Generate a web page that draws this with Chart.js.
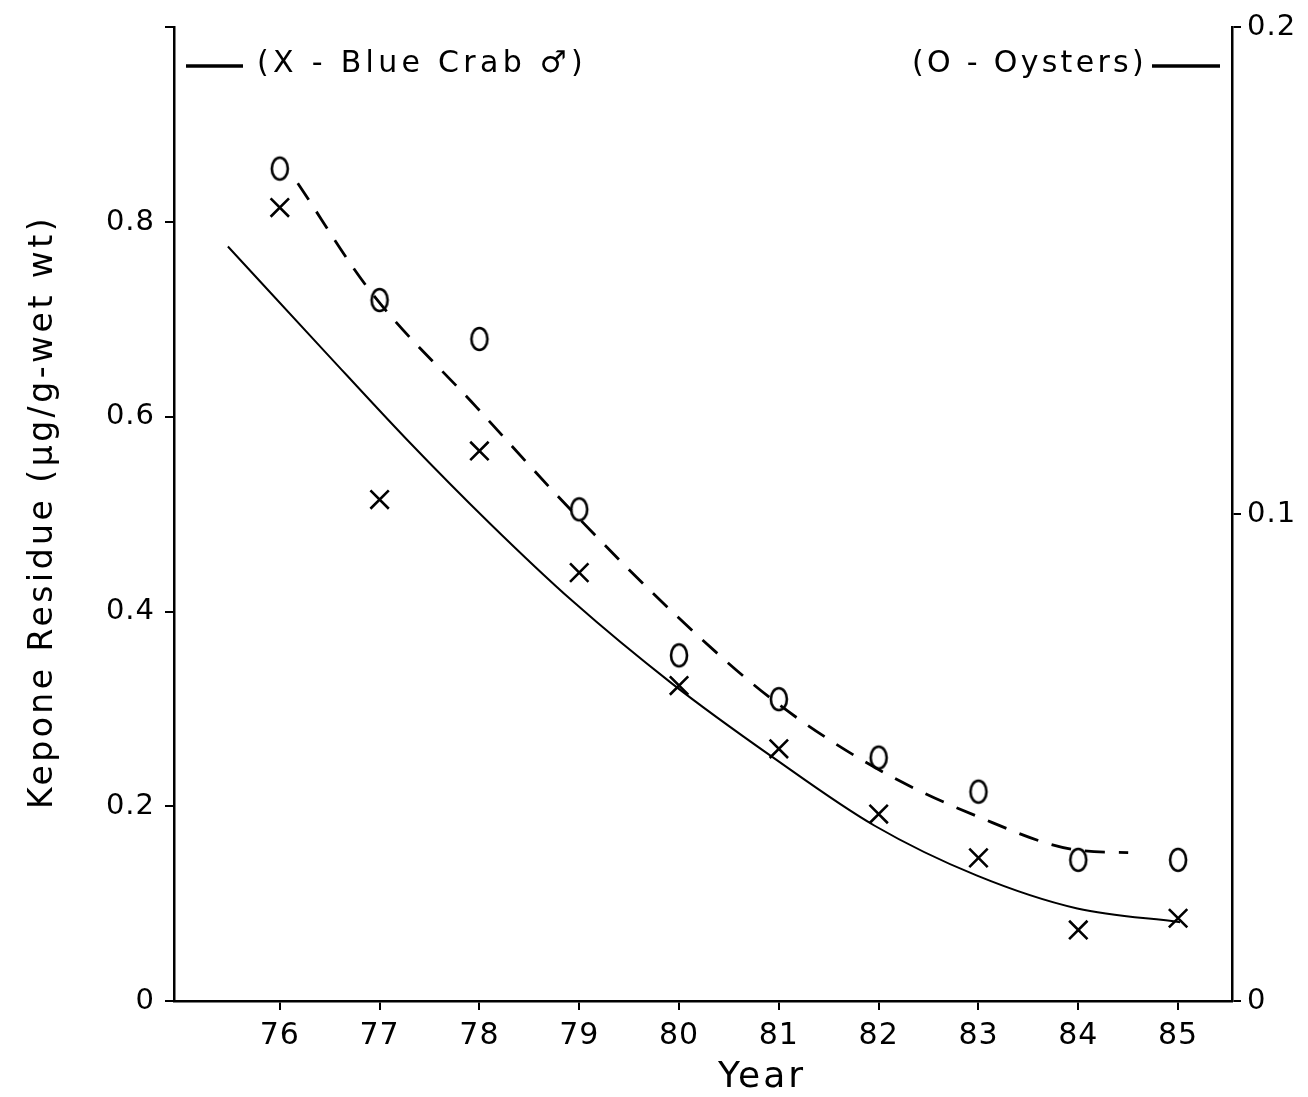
<!DOCTYPE html>
<html>
<head>
<meta charset="utf-8">
<script src="https://cdn.jsdelivr.net/npm/chart.js"></script>
<style>
html, body { margin: 0; padding: 0; background: #fff; }
#wrap { width: 1308px; height: 1097px; }
</style>
</head>
<body>
<div id="wrap"><canvas id="chart"></canvas></div>
<script>
// values
var years = [76, 77, 78, 79, 80, 81, 82, 83, 84, 85];
var crab = [0.815, 0.515, 0.565, 0.440, 0.324, 0.259, 0.192, 0.147, 0.073, 0.085];     // left axis
var oysters = [0.171, 0.144, 0.136, 0.101, 0.071, 0.062, 0.050, 0.043, 0.029, 0.029]; // right axis
var crabFitX = [75.48, 76.47, 77.27, 78.1, 78.93, 79.93, 80.93, 81.96, 82.98, 83.99, 85.02];
var crabFitY = [0.775, 0.665, 0.577, 0.491, 0.411, 0.326, 0.251, 0.180, 0.129, 0.095, 0.081];
var oysterFitX = [76.18, 76.9, 77.97, 78.91, 79.93, 80.93, 81.96, 82.98, 83.99, 84.5];
var oysterFitY = [0.168, 0.146, 0.122, 0.101, 0.080, 0.062, 0.048, 0.038, 0.031, 0.0305];
var leftTicks = [0, 0.2, 0.4, 0.6, 0.8, 1.0];
var rightTicks = [0, 0.1, 0.2];
var crabLabel = '(X - Blue Crab \u2642)';
var oysterLabel = '(O - Oysters)';
var yTitle = 'Kepone Residue (\u00b5g/g-wet wt)';
var xTitle = 'Year';

var FONT = 'DejaVu Sans';

function pts(xs, ys) {
    return xs.map(function (x, i) { return { x: x, y: ys[i] }; });
}

// hand lettered "O" marker, a bit taller than wide
function makeO() {
    var c = document.createElement('canvas');
    c.width = 24; c.height = 30;
    var g = c.getContext('2d');
    g.strokeStyle = '#000';
    g.lineWidth = 2.6;
    g.beginPath();
    g.ellipse(12, 15, 8, 11, 0, 0, Math.PI * 2);
    g.stroke();
    return c;
}

// lettering: wide spaced, like the stencil text of the original
var letteringPlugin = {
    id: 'lettering',
    beforeDraw: function (chart) {
        chart.ctx.letterSpacing = '1px';
    },
    afterDraw: function (chart) {
        var ctx = chart.ctx;
        var area = chart.chartArea;
        ctx.save();
        ctx.fillStyle = '#000';
        ctx.strokeStyle = '#000';
        ctx.lineWidth = 3.5;
        ctx.textBaseline = 'middle';
        ctx.textAlign = 'left';
        ctx.font = '30px "' + FONT + '"';

        ctx.beginPath(); ctx.moveTo(186, 66); ctx.lineTo(243, 66); ctx.stroke();
        ctx.letterSpacing = '4.3px';
        ctx.fillText(crabLabel, 257, 64);

        ctx.letterSpacing = '3.3px';
        ctx.fillText(oysterLabel, 912, 64);
        ctx.beginPath(); ctx.moveTo(1152, 66); ctx.lineTo(area.right - 12, 66); ctx.stroke();

        ctx.textAlign = 'center';
        ctx.font = '36px "' + FONT + '"';
        ctx.letterSpacing = '3px';
        ctx.fillText(xTitle, 762, 1078);

        ctx.font = '33px "' + FONT + '"';
        ctx.letterSpacing = '3.5px';
        ctx.translate(43, 512);
        ctx.rotate(-Math.PI / 2);
        ctx.fillText(yTitle, 0, 0);
        ctx.restore();
    }
};

function axisGrid() {
    return { display: true, drawOnChartArea: false, drawTicks: true, tickLength: 9, color: '#000', lineWidth: 2 };
}

var ctx = document.getElementById('chart').getContext('2d');
var chart = new Chart(ctx, {
    type: 'scatter',
    data: {
        datasets: [{
            label: 'Blue Crab',
            data: pts(years, crab),
            yAxisID: 'y',
            pointStyle: 'crossRot',
            pointRadius: 13,
            borderColor: '#000',
            borderWidth: 2.6
        }, {
            label: 'Oysters',
            data: pts(years, oysters),
            yAxisID: 'y2',
            pointStyle: makeO(),
            pointRadius: 12
        }, {
            label: 'Blue Crab fit',
            data: pts(crabFitX, crabFitY),
            yAxisID: 'y',
            showLine: true,
            pointRadius: 0,
            borderColor: '#000',
            borderWidth: 2,
            cubicInterpolationMode: 'monotone'
        }, {
            label: 'Oysters fit',
            data: pts(oysterFitX, oysterFitY),
            yAxisID: 'y2',
            showLine: true,
            pointRadius: 0,
            borderColor: '#000',
            borderWidth: 2.8,
            borderDash: [20, 14],
            cubicInterpolationMode: 'monotone'
        }]
    },
    options: {
        responsive: true,
        maintainAspectRatio: false,
        animation: false,
        layout: { padding: { top: 22 } },
        plugins: {
            legend: { display: false },
            tooltip: { enabled: false }
        },
        scales: {
            x: {
                type: 'linear',
                position: 'bottom',
                min: 74.94,
                max: 85.54,
                afterBuildTicks: function (s) { s.ticks = years.map(function (v) { return { value: v }; }); },
                afterFit: function (s) { s.height = 96; },
                grid: axisGrid(),
                border: { display: true, color: '#000', width: 2.5 },
                ticks: { color: '#000', font: { family: FONT, size: 30 }, padding: 8, maxRotation: 0, autoSkip: false }
            },
            y: {
                position: 'left',
                min: 0,
                max: 1.0,
                afterBuildTicks: function (s) { s.ticks = leftTicks.map(function (v) { return { value: v }; }); },
                afterFit: function (s) { s.width = 174; },
                grid: axisGrid(),
                border: { display: true, color: '#000', width: 2.5 },
                ticks: {
                    color: '#000', font: { family: FONT, size: 29 }, padding: 10,
                    callback: function (v) { return v === 1 ? '' : (v === 0 ? '0' : v.toFixed(1)); }
                }
            },
            y2: {
                position: 'right',
                min: 0,
                max: 0.2,
                afterBuildTicks: function (s) { s.ticks = rightTicks.map(function (v) { return { value: v }; }); },
                afterFit: function (s) { s.width = 76; },
                grid: axisGrid(),
                border: { display: true, color: '#000', width: 2.5 },
                ticks: {
                    color: '#000', font: { family: FONT, size: 29 }, padding: 6,
                    callback: function (v) { return v === 0 ? '0' : v.toFixed(1); }
                }
            }
        }
    },
    plugins: [letteringPlugin]
});
</script>
</body>
</html>
